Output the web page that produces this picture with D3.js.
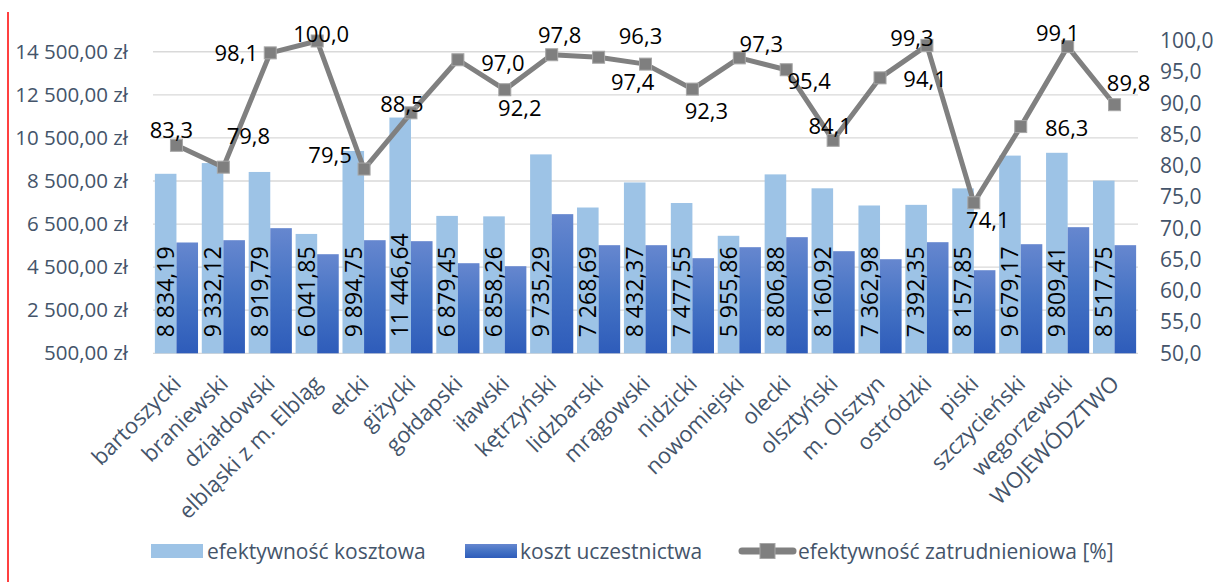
<!DOCTYPE html>
<html>
<head>
<meta charset="utf-8">
<script src="https://cdn.jsdelivr.net/npm/d3@7"></script>
<style>
  html, body { margin: 0; padding: 0; background: #fff; }
  svg { display: block; font-family: "Open Sans", sans-serif; }
</style>
</head>
<body>
<svg id="chart" width="1217" height="582"></svg>
<script>
// powiaty + województwo
const districts = [
  'bartoszycki', 'braniewski', 'działdowski', 'elbląski z m. Elbląg', 'ełcki', 'giżycki',
  'gołdapski', 'iławski', 'kętrzyński', 'lidzbarski', 'mrągowski', 'nidzicki', 'nowomiejski',
  'olecki', 'olsztyński', 'm. Olsztyn', 'ostródzki', 'piski', 'szczycieński', 'węgorzewski',
  'WOJEWÓDZTWO'
];
// efektywność kosztowa (zł)
const costEff = [
  8834.19, 9332.12, 8919.79, 6041.85, 9894.75, 11446.64, 6879.45, 6858.26, 9735.29, 7268.69,
  8432.37, 7477.55, 5955.86, 8806.88, 8160.92, 7362.98, 7392.35, 8157.85, 9679.17, 9809.41,
  8517.75
];
// koszt uczestnictwa (zł) – no labels in the source
const partCost = [
  5645, 5752, 6310, 5101, 5752, 5706, 4683, 4544, 6961, 5520,
  5520, 4916, 5427, 5892, 5241, 4869, 5659, 4358, 5566, 6356,
  5520
];
// efektywność zatrudnieniowa [%]
const emplEff = [
  83.3, 79.8, 98.1, 100.0, 79.5, 88.5, 97.0, 92.2, 97.8, 97.4,
  96.3, 92.3, 97.3, 95.4, 84.1, 94.1, 99.3, 74.1, 86.3, 99.1,
  89.8
];
const leftTicks = d3.range(500, 15000, 2000);
const rightTicks = d3.range(50, 100.01, 5);
const legendLabels = ['efektywność kosztowa', 'koszt uczestnictwa', 'efektywność zatrudnieniowa [%]'];

// hand-placed line labels (dx, dy from the marker), like dragged labels in Excel
const labelShift = [
  [-5, -15], [25, -31], [-34, 0], [4, -7], [-34, -14], [-9, -9], [45, 3], [15, 18],
  [8, -20], [34, 25], [-5, -28], [14, 22], [22, -14], [23, 11], [-3, -14], [45, 1],
  [-15, -7], [14, 17], [46, 2], [-10, -14], [14, -22]
];

const pl = d3.formatLocale({ decimal: ',', thousands: ' ', grouping: [3], currency: ['', ''] });
const fmtZl = v => pl.format(',.2f')(v) + ' zł';
const fmtNum = pl.format(',.2f');
const fmtPct = pl.format('.1f');

const AXIS = '#44546a';
const LIGHT = '#9dc3e6';
const LINE = '#808080';

const svg = d3.select('#chart');

const M = { left: 153, right: 1138, top: 41, bottom: 353.3 };

const x = d3.scaleBand().domain(districts).range([M.left, M.right])
  .paddingInner(0.08).paddingOuter(0.04);
const xs = d3.scaleBand().domain([0, 1]).range([0, x.bandwidth()]);
const yL = d3.scaleLinear().domain([500, 15000]).range([M.bottom, M.top]);
const yR = d3.scaleLinear().domain([50, 100]).range([M.bottom, M.top]);

// gradient for dark bars
const defs = svg.append('defs');
const grad = defs.append('linearGradient').attr('id', 'darkGrad')
  .attr('x1', 0).attr('y1', 0).attr('x2', 0).attr('y2', 1);
grad.append('stop').attr('offset', '0%').attr('stop-color', '#6687cf');
grad.append('stop').attr('offset', '50%').attr('stop-color', '#4472c4');
grad.append('stop').attr('offset', '100%').attr('stop-color', '#2e5cba');

// red margin line on the left
svg.append('line').attr('x1', 8).attr('x2', 8).attr('y1', 12).attr('y2', 582)
  .attr('stroke', '#ff0000').attr('stroke-width', 1.5);

// gridlines
svg.append('g').selectAll('line').data(leftTicks).join('line')
  .attr('x1', M.left).attr('x2', M.right)
  .attr('y1', d => yL(d)).attr('y2', d => yL(d))
  .attr('stroke', '#d9d9d9').attr('stroke-width', 1.3);

// left axis
const gL = svg.append('g').attr('transform', `translate(${M.left - 25},0)`)
  .call(d3.axisLeft(yL).tickValues(leftTicks).tickFormat(fmtZl).tickSize(0).tickPadding(0));
gL.select('.domain').remove();
gL.selectAll('text').attr('fill', AXIS).attr('font-size', 20.5).attr('font-family', 'Open Sans');

// right axis
const gR = svg.append('g').attr('transform', `translate(${M.right + 22},0)`)
  .call(d3.axisRight(yR).tickValues(rightTicks).tickFormat(d => fmtPct(d)).tickSize(0).tickPadding(0));
gR.select('.domain').remove();
gR.selectAll('text').attr('fill', AXIS).attr('font-size', 21).attr('font-family', 'Open Sans');

// bars
const groups = svg.append('g').selectAll('g').data(districts).join('g')
  .attr('transform', d => `translate(${x(d)},0)`);

groups.append('rect')
  .attr('x', xs(0)).attr('width', xs.bandwidth())
  .attr('y', (d, i) => yL(costEff[i])).attr('height', (d, i) => yL(500) - yL(costEff[i]))
  .attr('fill', LIGHT);

groups.append('rect')
  .attr('x', xs(1)).attr('width', xs.bandwidth())
  .attr('y', (d, i) => yL(partCost[i])).attr('height', (d, i) => yL(500) - yL(partCost[i]))
  .attr('fill', 'url(#darkGrad)');

// bar value labels (vertical)
groups.append('text')
  .attr('transform', `translate(${xs(0) + xs.bandwidth() / 2},${M.bottom - 16}) rotate(-90)`)
  .attr('dy', '0.36em')
  .attr('font-size', 23).attr('fill', '#000')
  .text((d, i) => fmtNum(costEff[i]));

// employment line
const pts = districts.map((d, i) => [x(d) + x.bandwidth() / 2, yR(emplEff[i])]);
svg.append('path').datum(pts)
  .attr('d', d3.line())
  .attr('fill', 'none').attr('stroke', LINE).attr('stroke-width', 5)
  .attr('stroke-linejoin', 'round');

const mk = 12;
svg.append('g').selectAll('rect').data(pts).join('rect')
  .attr('x', d => d[0] - mk / 2).attr('y', d => d[1] - mk / 2)
  .attr('width', mk).attr('height', mk)
  .attr('fill', '#7f7f7f').attr('stroke', '#a6a6a6').attr('stroke-width', 1);

svg.append('g').selectAll('text').data(pts).join('text')
  .attr('x', (d, i) => d[0] + labelShift[i][0])
  .attr('y', (d, i) => d[1] + labelShift[i][1])
  .attr('dy', '0.36em').attr('text-anchor', 'middle')
  .attr('font-size', 22).attr('fill', '#000')
  .text((d, i) => fmtPct(emplEff[i]));

// category labels, rotated
svg.append('g').selectAll('text').data(districts).join('text')
  .attr('transform', d => `translate(${x(d) + x.bandwidth() / 2 + 6},385) rotate(-45)`)
  .attr('text-anchor', 'end')
  .attr('font-size', 22).attr('fill', AXIS)
  .text(d => d);

// legend
const lg = svg.append('g').attr('transform', 'translate(0,551)');
lg.append('rect').attr('x', 151).attr('y', -7).attr('width', 52).attr('height', 14).attr('fill', LIGHT);
lg.append('rect').attr('x', 465).attr('y', -7).attr('width', 52).attr('height', 14).attr('fill', 'url(#darkGrad)');
lg.append('line').attr('x1', 742).attr('x2', 793).attr('y1', 0).attr('y2', 0)
  .attr('stroke', LINE).attr('stroke-width', 7).attr('stroke-linecap', 'round');
lg.append('rect').attr('x', 760).attr('y', -7.5).attr('width', 15).attr('height', 15)
  .attr('fill', '#7f7f7f').attr('stroke', '#a6a6a6');
lg.selectAll('text.lt').data(legendLabels).join('text')
  .attr('class', 'lt')
  .attr('x', (d, i) => [207, 520, 798][i])
  .attr('dy', '0.36em')
  .attr('font-size', 21).attr('fill', AXIS)
  .text(d => d);
</script>
</body>
</html>
